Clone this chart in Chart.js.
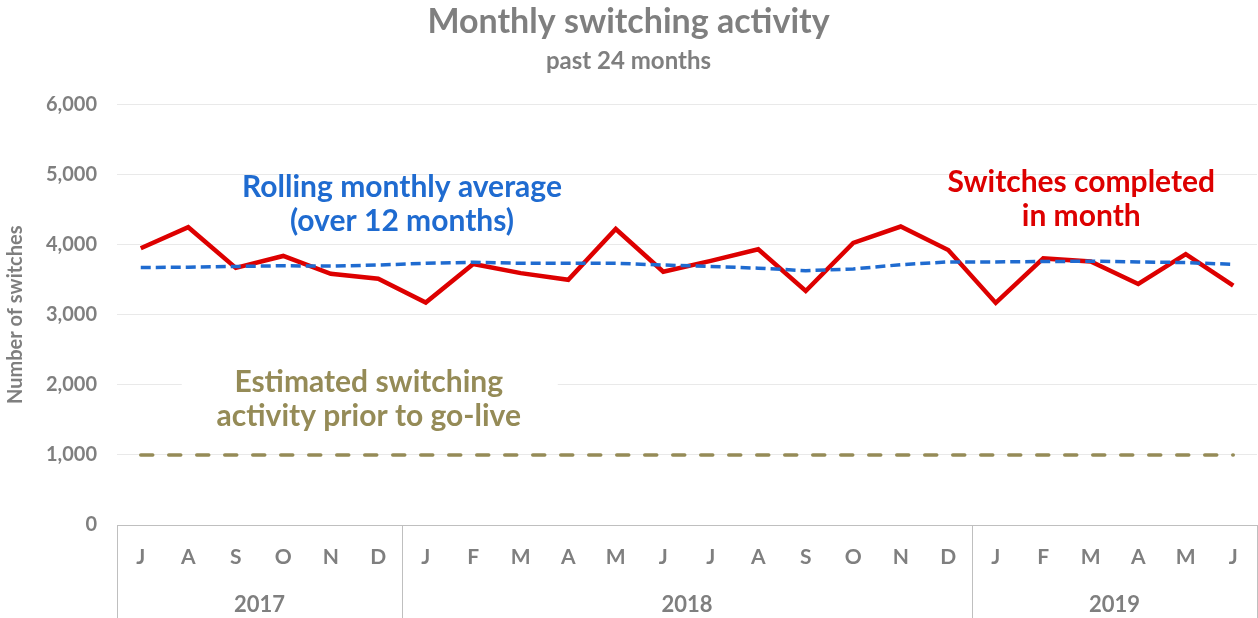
<html>
<head>
<title>Monthly switching activity</title>
<script src="https://cdn.jsdelivr.net/npm/chart.js"></script>
<style>
  body { margin: 0; background: #fff; }
  #wrap { position: relative; width: 1258px; height: 618px; }
</style>
</head>
<body>
<div id="wrap"><canvas id="switchChart"></canvas></div>
<script>
// months Jul 2017 .. Jun 2019
var months = ['J','A','S','O','N','D','J','F','M','A','M','J','J','A','S','O','N','D','J','F','M','A','M','J'];
var years = ['2017', '2018', '2019'];
var yearStart = [0, 6, 18];
var yearEnd = [6, 18, 24];

var completed = [3950, 4250, 3670, 3840, 3585, 3515, 3175, 3725, 3595, 3500, 4225, 3615,
                 3770, 3935, 3340, 4025, 4260, 3925, 3170, 3805, 3760, 3440, 3865, 3415];
var rolling = [3675, 3680, 3690, 3700, 3695, 3710, 3735, 3750, 3735, 3735, 3735, 3710,
               3690, 3665, 3630, 3655, 3715, 3755, 3755, 3760, 3765, 3755, 3745, 3720];
var priorEstimate = [1000, 1000, 1000, 1000, 1000, 1000, 1000, 1000, 1000, 1000, 1000, 1000,
                     1000, 1000, 1000, 1000, 1000, 1000, 1000, 1000, 1000, 1000, 1000, 1000];

var grey = '#7F7F7F';
var fontName = 'Lato, "Open Sans", sans-serif';

// text notes: [lines, x index, y value, colour, white box]
var notes = [
  [['Rolling monthly average', '(over 12 months)'], 5.5, 4570, '#1F6BD0', false],
  [['Switches completed', 'in month'], 19.8, 4655, '#DD0000', false],
  [['Estimated switching', 'activity prior to go-live'], 4.8, 1795, '#958B57', true]
];

var notesPlugin = {
  id: 'notes',
  beforeDatasetsDraw: function(chart) {
    var ctx = chart.ctx, x = chart.scales.x, y = chart.scales.y;
    notes.forEach(function(n) {
      if (!n[4]) return;
      var cx = x.getPixelForValue(n[1]), cy = y.getPixelForValue(n[2]);
      ctx.save();
      ctx.fillStyle = '#fff';
      ctx.fillRect(cx - 187, cy - 40, 376, 80);
      ctx.restore();
    });
  },
  afterDatasetsDraw: function(chart) {
    var ctx = chart.ctx, x = chart.scales.x, y = chart.scales.y;
    ctx.save();
    ctx.font = 'bold 30px ' + fontName;
    ctx.textAlign = 'center';
    ctx.textBaseline = 'middle';
    notes.forEach(function(n) {
      var cx = x.getPixelForValue(n[1]), cy = y.getPixelForValue(n[2]);
      ctx.fillStyle = n[3];
      ctx.fillText(n[0][0], cx, cy - 17);
      ctx.fillText(n[0][1], cx, cy + 17);
    });
    ctx.restore();
  },
  afterDraw: function(chart) {
    var ctx = chart.ctx, x = chart.scales.x, area = chart.chartArea;
    var bottom = chart.height;
    ctx.save();
    ctx.strokeStyle = '#BFBFBF';
    ctx.lineWidth = 1;
    var edges = [0, 6, 18, 24];
    edges.forEach(function(i) {
      var px = Math.round(x.getPixelForValue(i - 0.5)) + 0.5;
      if (i === 24) px = Math.min(px, chart.width - 0.5);
      ctx.beginPath();
      ctx.moveTo(px, area.bottom);
      ctx.lineTo(px, bottom);
      ctx.stroke();
    });
    ctx.fillStyle = grey;
    ctx.font = 'bold 22px ' + fontName;
    ctx.textAlign = 'center';
    ctx.textBaseline = 'middle';
    years.forEach(function(yr, k) {
      var mid = (yearStart[k] + yearEnd[k] - 1) / 2;
      ctx.fillText(yr, x.getPixelForValue(mid), 605);
    });
    ctx.restore();
  }
};

new Chart(document.getElementById('switchChart'), {
  type: 'line',
  data: {
    labels: months,
    datasets: [{
      label: 'Switches completed in month',
      data: completed,
      borderColor: '#DD0000',
      borderWidth: 4.5,
      pointRadius: 0,
      tension: 0,
      order: 3
    }, {
      label: 'Rolling monthly average',
      data: rolling,
      borderColor: '#1F6BD0',
      borderWidth: 3.5,
      borderDash: [10, 5],
      pointRadius: 0,
      tension: 0,
      order: 1
    }, {
      label: 'Estimated prior to go-live',
      data: priorEstimate,
      borderColor: '#958B57',
      borderWidth: 3.5,
      borderDash: [12, 16],
      borderCapStyle: 'round',
      pointRadius: 0,
      tension: 0,
      order: 2
    }]
  },
  options: {
    responsive: true,
    maintainAspectRatio: false,
    animation: false,
    layout: { padding: { left: 0, right: 1, top: 0, bottom: 0 } },
    plugins: {
      legend: { display: false },
      tooltip: { enabled: false },
      title: {
        display: true,
        text: 'Monthly switching activity',
        color: grey,
        font: { family: fontName, size: 34, weight: 'bold' },
        padding: { top: 2, bottom: 0 }
      },
      subtitle: {
        display: true,
        text: 'past 24 months',
        color: grey,
        font: { family: fontName, size: 24, weight: 'bold' },
        padding: { top: 4, bottom: 29 }
      }
    },
    scales: {
      x: {
        offset: true,
        grid: { display: false, drawTicks: false },
        border: { display: true, color: '#BFBFBF' },
        ticks: {
          color: grey,
          font: { family: fontName, size: 21, weight: 'bold' },
          padding: 20,
          autoSkip: false,
          maxRotation: 0
        },
        afterFit: function(s) { s.height = 93; }
      },
      y: {
        min: 0,
        max: 6000,
        ticks: {
          stepSize: 1000,
          color: grey,
          padding: 20,
          font: { family: fontName, size: 20, weight: 'bold' },
          callback: function(v) { return v.toLocaleString('en-US'); }
        },
        grid: {
          drawTicks: false,
          color: function(c) { return c.index === 0 ? '#BFBFBF' : '#E9E9E9'; }
        },
        border: { display: false },
        title: {
          display: true,
          text: 'Number of switches',
          color: grey,
          font: { family: fontName, size: 20, weight: 'bold' },
          padding: { top: 4, bottom: 0 }
        },
        afterFit: function(s) { s.width = 117; }
      }
    }
  },
  plugins: [notesPlugin]
});
</script>
</body>
</html>
